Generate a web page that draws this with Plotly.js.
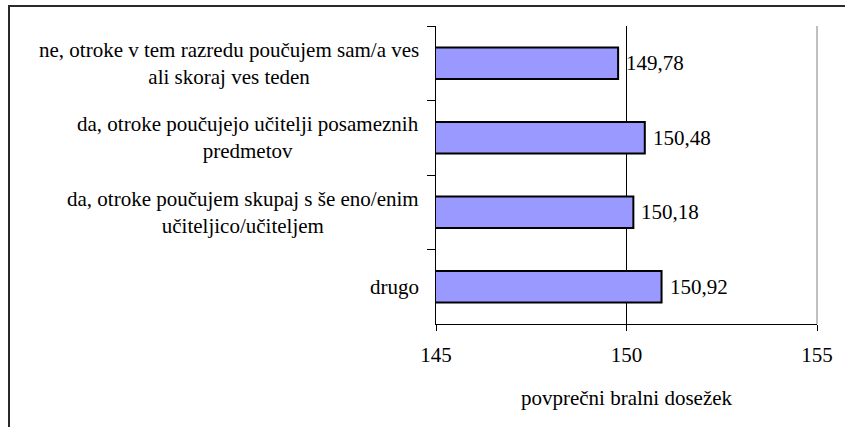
<!DOCTYPE html>
<html>
<head>
<meta charset="utf-8">
<script src="https://cdn.plot.ly/plotly-3.0.1.min.js"></script>
<style>
  html, body { margin: 0; padding: 0; overflow: hidden; background: #fff; }
  #wrap { position: relative; width: 845px; height: 427px; overflow: hidden; }
  #chart { width: 845px; height: 427px; }
  #chart text { font-family: 'Liberation Serif', 'Times New Roman', serif !important; }
  #frame { position: absolute; left: 8px; top: 5px; width: 900px; height: 500px;
           border-left: 2px solid #2a2a2a; border-top: 2px solid #2a2a2a; pointer-events: none; }
</style>
</head>
<body>
<div id="wrap">
  <div id="chart"></div>
  <div id="frame"></div>
</div>
<script>
const categories = [
  "ne, otroke v tem razredu poučujem sam/a ves<br>ali skoraj ves teden",
  "da, otroke poučujejo učitelji posameznih<br>predmetov",
  "da, otroke poučujem skupaj s še eno/enim<br>učiteljico/učiteljem",
  "drugo"
];
const values = [149.78, 150.48, 150.18, 150.92];
const xTicks = [145, 150, 155];
const xTitle = "povprečni bralni dosežek";

const FONT = "Liberation Serif";

function buildFigure() {
  const trace = {
    type: "bar",
    orientation: "h",
    y: categories,
    x: values,
    marker: { color: "#9999FF", line: { color: "#000", width: 2 } },
    hoverinfo: "none"
  };

  const annotations = [];
  categories.forEach((c, i) => {
    annotations.push({
      xref: "paper", yref: "y", x: 0, y: c, xanchor: "right", xshift: -15,
      text: c, align: "center", showarrow: false,
      font: { family: FONT, size: 21, color: "#000" }
    });
    annotations.push({
      xref: "x", yref: "y", x: values[i], y: c, xanchor: "left", xshift: 6,
      text: values[i].toFixed(2).replace(".", ","), showarrow: false,
      font: { family: FONT, size: 21, color: "#000" }
    });
  });

  const layout = {
    width: 845, height: 427,
    margin: { l: 436, r: 28, t: 26, b: 103, pad: 0 },
    paper_bgcolor: "#fff", plot_bgcolor: "#fff",
    showlegend: false,
    bargap: 0.58,
    font: { family: FONT, size: 21, color: "#000" },
    xaxis: {
      range: [145, 155],
      tickvals: xTicks,
      ticktext: xTicks.map(String),
      showgrid: true, gridcolor: "#000", gridwidth: 1,
      showline: true, linecolor: "#000", linewidth: 1,
      ticks: "outside", ticklen: 6, tickcolor: "#000", tickwidth: 1,
      ticklabelstandoff: 6,
      zeroline: false,
      tickfont: { family: FONT, size: 21, color: "#000" },
      title: { text: xTitle, font: { family: FONT, size: 21, color: "#000" }, standoff: 24 }
    },
    yaxis: {
      type: "category",
      autorange: "reversed",
      showticklabels: false,
      tickson: "boundaries",
      ticks: "outside", ticklen: 8, tickcolor: "#000", tickwidth: 1,
      showline: true, linecolor: "#000", linewidth: 1,
      showgrid: false, zeroline: false
    },
    shapes: [
      { type: "line", xref: "paper", yref: "paper", x0: 1, x1: 1, y0: 0, y1: 1,
        line: { color: "#808080", width: 1 } }
    ],
    annotations: annotations
  };
  return { data: [trace], layout: layout };
}

const fig = buildFigure();
Plotly.newPlot("chart", fig.data, fig.layout, { staticPlot: true, displayModeBar: false });
if (document.fonts && document.fonts.ready) {
  document.fonts.ready.then(() => {
    const f2 = buildFigure();
    Plotly.react("chart", f2.data, f2.layout, { staticPlot: true, displayModeBar: false });
  });
}
</script>
</body>
</html>
